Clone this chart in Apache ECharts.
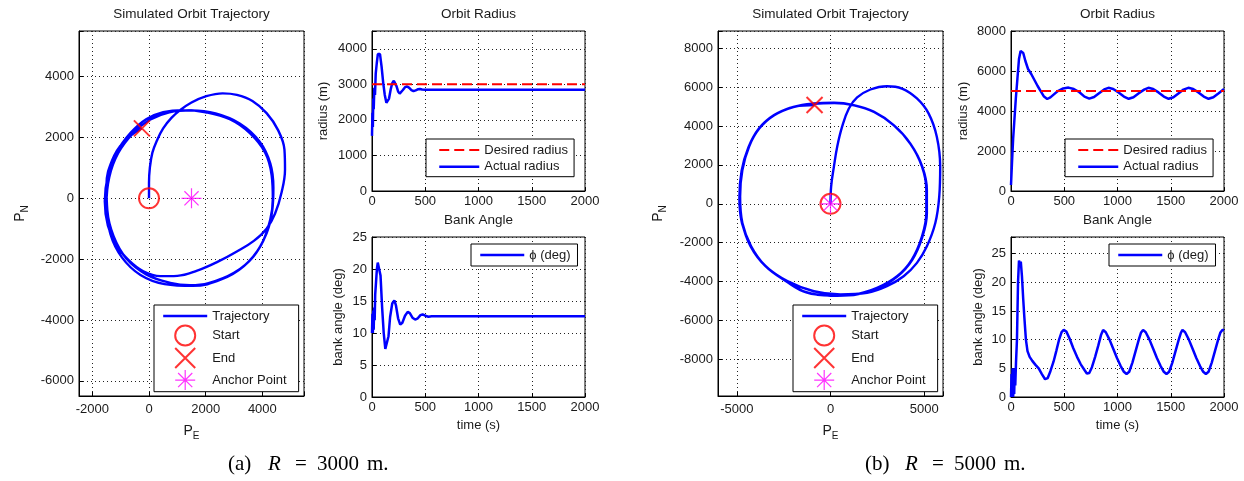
<!DOCTYPE html>
<html><head><meta charset="utf-8">
<script src="https://cdn.jsdelivr.net/npm/echarts@6/dist/echarts.min.js"></script>
<style>html,body{margin:0;padding:0;background:#fff}#c{width:1244px;height:481px}</style>
</head><body><div id="c"></div>
<script>
// ---------- DATA ----------
// (a) R = 3000 m
const trajA = [[0,0],[0,500],[30,1000],[120,1500],[280,1900],[500,2300],[800,2650],[1100,2900],[1500,3150],[2000,3350],[2600,3450],[3100,3400],[3650,3200],[4150,2800],[4550,2250],[4780,1600],[4800,950],[4680,200],[4450,-500],[4150,-1000],[3700,-1400],[3100,-1750],[2400,-2100],[1700,-2380],[1000,-2550],[400,-2560],[-200,-2400],[-700,-2050],[-1150,-1550],[-1450,-900],[-1560,-100],[-1450,750],[-1150,1500],[-650,2150],[-100,2600],[500,2830],[1200,2900],[2000,2830],[2850,2600],[3550,2150],[4100,1500],[4330,750],[4370,0],[4280,-700],[3950,-1550],[3350,-2230],[2550,-2670],[1550,-2880],[550,-2820],[-300,-2520],[-950,-1950],[-1360,-1180],[-1500,-200],[-1400,700],[-1090,1480],[-560,2140],[30,2580],[720,2830],[1500,2890],[2350,2790],[3200,2460],[3900,1870],[4280,1150],[4390,350],[4350,-400],[4150,-1150],[3680,-1920],[3000,-2450],[2100,-2790],[1450,-2860],[750,-2780],[-100,-2500],[-800,-1980],[-1250,-1250],[-1470,-400],[-1500,450],[-1300,1250],[-900,1850],[-250,2300]];
const startA = [[0,0]];
const endA = [[-250,2300]];
const anchorA = [[1500,0]];
const radTimeA = [0,4,8,12,16,22,28,35,45,55,65,75,90,105,120,135,145,160,175,190,205,215,230,245,260,275,290,310,330,350,370,390,410,430,450,470,500,2000];
const radA = [1550,2200,1800,2600,2300,2900,2700,3300,3600,3850,3900,3850,3500,3050,2700,2480,2450,2600,2850,3030,3100,3080,2950,2800,2740,2760,2840,2920,2940,2900,2840,2810,2830,2860,2870,2855,2850,2850];
const desiredA = 3000;
const bankTimeA = [0,4,8,12,16,20,25,30,38,46,54,62,70,80,95,110,125,140,155,170,190,210,225,245,265,285,310,335,355,380,405,430,455,475,500,530,560,2000];
const bankA = [10,13,10,13.5,10.5,14,12,16,18,20,21,21.3,21,19,14,10,7.5,7.3,9.5,12.5,14.6,15.1,14.3,12.3,11.3,11.6,12.7,13.3,13.1,12.4,12.1,12.3,12.8,12.9,12.7,12.55,12.6,12.6];

// (b) R = 5000 m
const trajB = [[0,0],[35,900],[180,1900],[360,2950],[620,3970],[980,4900],[1420,5470],[2130,5880],[3010,6050],[3810,5930],[4610,5420],[5230,4650],[5670,3450],[5850,1910],[5800,380],[5590,-990],[5140,-2190],[4610,-3040],[3900,-3730],[3010,-4240],[1950,-4580],[530,-4670],[-890,-4500],[-2300,-3980],[-3460,-3210],[-4260,-2190],[-4700,-990],[-4820,380],[-4700,1740],[-4340,2940],[-3810,3880],[-3010,4570],[-1950,4990],[-890,5160],[180,5200],[1240,5080],[2300,4740],[3370,4050],[4250,3110],[4880,1910],[5110,720],[5110,-480],[4880,-1680],[4340,-2870],[3550,-3730],[2480,-4330],[1240,-4670],[0,-4720],[-1300,-4560],[-2350,-4000],[-3480,-3200],[-4250,-2180],[-4720,-1000],[-4860,300],[-4740,1700],[-4380,2900],[-3830,3860],[-3040,4540],[-1980,4980],[-860,5150],[200,5180],[1260,5060],[2320,4720],[3380,4030],[4260,3090],[4900,1900],[5140,700],[5140,-500],[4900,-1700],[4360,-2880],[3560,-3740],[2490,-4340],[1240,-4690],[0,-4730],[-1290,-4550],[-2330,-3990],[-3470,-3200],[-4240,-2170],[-4700,-990],[-4840,320],[-4720,1720],[-4360,2920],[-3800,3870],[-3000,4560],[-1900,5000],[-850,5080]];
const startB = [[0,0]];
const endB = [[-850,5080]];
const anchorB = [[0,0]];
const radTimeB = [0,10,20,30,45,60,75,90,100,115,135,160,190,220,250,280,310,340,370,400,440,490,540,590,640,690,735,780,830,875,915,960,1010,1060,1105,1150,1200,1250,1290,1335,1385,1435,1480,1525,1575,1620,1665,1710,1760,1810,1855,1900,1950,2000];
const radB = [300,1500,2600,3400,4600,5600,6600,7000,7050,6900,6500,6100,5850,5550,5250,4980,4720,4600,4680,4820,5000,5130,5170,5100,4950,4720,4620,4700,4900,5080,5160,5100,4930,4720,4610,4690,4890,5070,5160,5100,4930,4720,4610,4690,4890,5070,5160,5100,4930,4720,4610,4690,4890,5100];
const desiredB = 5000;
const bankTimeB = [0,5,10,15,20,25,30,35,40,47,56,66,75,85,92,103,115,125,140,155,175,200,230,260,290,320,345,370,400,425,450,475,495,520,550,585,620,655,690,712,735,760,790,820,845,865,890,925,960,995,1030,1060,1085,1110,1140,1170,1200,1220,1240,1265,1300,1335,1370,1405,1435,1460,1485,1515,1545,1575,1595,1610,1635,1670,1705,1740,1775,1805,1830,1855,1885,1915,1945,1965,1985,2000];
const bankB = [0,4,1,5,0,3,0.5,5,2,6,10,20,23.8,23.2,23.6,21,17,14,10,8,7,6.3,5.6,5,4,3.1,3.3,4.5,6.2,8,9.9,11.3,11.7,11.4,10.2,8.5,7,5.7,4.7,4.1,4.2,5.2,7,9,10.8,11.7,11.3,10,8.4,6.8,5.4,4.4,4.0,4.4,6,8,10,11.2,11.7,11.3,10,8.4,6.8,5.4,4.4,4.0,4.4,6,8,10,11.2,11.7,11.3,10,8.4,6.8,5.4,4.4,4.0,4.4,6,8,10,11.2,11.7,11.7];

// ---------- STYLE ----------
const F = "'Liberation Sans', Arial, Helvetica, sans-serif";
const SERIF = "'Liberation Serif', 'Times New Roman', serif";
const INK = '#1a1a1a';
const BLUE = '#0000ff', RED = '#ff0000', MAG = '#ff00ff';
const XPATH = 'path://M0,0L100,100M100,0L0,100';
const STARPATH = 'path://M50,0L50,100M0,50L100,50M14.6,14.6L85.4,85.4M85.4,14.6L14.6,85.4';
const pair = (xs, ys) => xs.map((x, i) => [x, ys[i]]);
const stepFmt = s => v => (Math.abs(v / s - Math.round(v / s)) < 1e-6 ? String(Math.round(v * 1000) / 1000) : '');
const subRich = {
  p: {fontSize: 14, fontFamily: F, color: INK, lineHeight: 16},
  s: {fontSize: 10, fontFamily: F, color: INK, lineHeight: 12, padding: [10, 0, 0, 0]}
};

function axis(gi, min, max, o) {
  const a = {
    type: 'value', gridIndex: gi, min: min, max: max,
    axisLine: {show: true, onZero: false, lineStyle: {color: '#000', width: 1}},
    axisTick: {show: true, inside: true, length: 4, lineStyle: {color: '#000'}},
    axisLabel: {color: INK, fontSize: 13, fontFamily: F, margin: o.margin, formatter: stepFmt(o.step)},
    splitLine: {show: true, lineStyle: {color: '#222', width: 1, type: [1, 3]}},
    name: o.name || '', nameLocation: 'middle', nameGap: o.nameGap || 20,
    nameTextStyle: Object.assign({color: INK, fontSize: 13, fontFamily: F}, o.rich ? {rich: subRich} : {})
  };
  if (o.interval) a.interval = o.interval; else a.splitNumber = o.splitNumber;
  if (o.rotate) a.nameRotate = 90;
  return a;
}

const grids = [
  {left: 79, top: 31, width: 225, height: 365},
  {left: 372, top: 31, width: 213, height: 160},
  {left: 372, top: 237, width: 213, height: 160},
  {left: 718, top: 31, width: 225, height: 365},
  {left: 1011, top: 31, width: 213, height: 160},
  {left: 1011, top: 237, width: 213, height: 160}
].map(g => Object.assign({show: true, borderColor: '#000', borderWidth: 1, backgroundColor: '#fff', containLabel: false}, g));

const xAxes = [
  axis(0, -2470, 5470, {splitNumber: 4, step: 2000, margin: 7, name: '{p|P}{s|E}', rich: true, nameGap: 20}),
  axis(1, 0, 2000, {interval: 500, step: 500, margin: 4}),
  axis(2, 0, 2000, {interval: 500, step: 500, margin: 4, name: 'time (s)', nameGap: 22}),
  axis(3, -6000, 6000, {splitNumber: 3, step: 5000, margin: 7, name: '{p|P}{s|E}', rich: true, nameGap: 20}),
  axis(4, 0, 2000, {interval: 500, step: 500, margin: 4}),
  axis(5, 0, 2000, {interval: 500, step: 500, margin: 4, name: 'time (s)', nameGap: 22})
];
const yAxes = [
  axis(0, -6500, 5500, {splitNumber: 6, step: 2000, margin: 5, name: '{p|P}{s|N}', rich: true, rotate: true, nameGap: 51}),
  axis(1, 0, 4500, {interval: 1000, step: 1000, margin: 5, name: 'radius (m)', rotate: true, nameGap: 42}),
  axis(2, 0, 25, {interval: 5, step: 5, margin: 5, name: 'bank angle (deg)', rotate: true, nameGap: 27}),
  axis(3, -9890, 8890, {splitNumber: 9, step: 2000, margin: 5, name: '{p|P}{s|N}', rich: true, rotate: true, nameGap: 52}),
  axis(4, 0, 8000, {interval: 2000, step: 2000, margin: 5, name: 'radius (m)', rotate: true, nameGap: 41}),
  axis(5, 0, 27.9, {interval: 5, step: 5, margin: 5, name: 'bank angle (deg)', rotate: true, nameGap: 26})
];

function lineS(name, gi, data, color, width, extra) {
  return Object.assign({
    name: name, type: 'line', xAxisIndex: gi, yAxisIndex: gi, data: data,
    symbol: 'none', showSymbol: false, animation: false,
    lineStyle: {color: color, width: width}, itemStyle: {color: color}, z: 3
  }, extra || {});
}
function markS(name, gi, data, symbol, size, color, bw) {
  return {
    name: name, type: 'scatter', xAxisIndex: gi, yAxisIndex: gi, data: data,
    symbol: symbol, symbolSize: size, animation: false, z: 5,
    itemStyle: {color: 'rgba(0,0,0,0)', borderColor: color, borderWidth: bw}
  };
}

const series = [];
[[0, trajA, startA, endA, anchorA, 1, radTimeA, radA, desiredA, 2, bankTimeA, bankA],
 [3, trajB, startB, endB, anchorB, 4, radTimeB, radB, desiredB, 5, bankTimeB, bankB]].forEach(p => {
  series.push(lineS('Trajectory', p[0], p[1], BLUE, 2.4, {smooth: 0.4}));
  series.push(markS('Start', p[0], p[2], 'circle', 20, RED, 2));
  series.push(markS('End', p[0], p[3], XPATH, 16, RED, 2));
  series.push(markS('Anchor Point', p[0], p[4], STARPATH, 20, MAG, 1.2));
  series.push(lineS('Desired radius', p[5], [[0, p[8]], [2000, p[8]]], RED, 2, {lineStyle: {color: RED, width: 2, type: [10, 5]}, z: 4}));
  series.push(lineS('Actual radius', p[5], pair(p[6], p[7]), BLUE, 2.5));
  series.push(lineS('ϕ (deg)', p[9], pair(p[10], p[11]), BLUE, 2.5));
});

const noSym = {opacity: 0, color: 'rgba(0,0,0,0)', borderWidth: 0};
const legBase = {
  orient: 'vertical', backgroundColor: '#fff', borderColor: '#000', borderWidth: 1, borderRadius: 0,
  textStyle: {color: INK, fontSize: 13, fontFamily: F}, symbolKeepAspect: true, selectedMode: false,
  itemHeight: 20
};
const trajLegData = [
  {name: 'Trajectory', itemStyle: noSym, lineStyle: {color: BLUE, width: 2.4}},
  {name: 'Start', icon: 'circle', itemStyle: {color: 'rgba(0,0,0,0)', borderColor: RED, borderWidth: 2}},
  {name: 'End', icon: XPATH, itemStyle: {color: 'rgba(0,0,0,0)', borderColor: RED, borderWidth: 2}},
  {name: 'Anchor Point', icon: STARPATH, itemStyle: {color: 'rgba(0,0,0,0)', borderColor: MAG, borderWidth: 1.2}}
];
const radLegData = [
  {name: 'Desired radius', itemStyle: noSym, lineStyle: {color: RED, width: 2, type: [10, 5]}},
  {name: 'Actual radius', itemStyle: noSym, lineStyle: {color: BLUE, width: 2.5}}
];
const bankLegData = [{name: 'ϕ (deg)', itemStyle: noSym, lineStyle: {color: BLUE, width: 2.5}}];
const legends = [
  Object.assign({}, legBase, {left: 154, top: 305, itemWidth: 44, itemGap: 0.5, padding: [3, 12, 1, 8], data: trajLegData}),
  Object.assign({}, legBase, {left: 793, top: 305, itemWidth: 44, itemGap: 0.5, padding: [3, 12, 1, 8], data: trajLegData}),
  Object.assign({}, legBase, {left: 426, top: 139, itemWidth: 40, itemGap: 0.7, padding: [3, 6, 2, 12], data: radLegData}),
  Object.assign({}, legBase, {left: 1065, top: 139, itemWidth: 40, itemGap: 0.7, padding: [3, 6, 2, 12], data: radLegData}),
  Object.assign({}, legBase, {left: 471, top: 244, itemWidth: 44, padding: [3, 7, 3, 8], data: bankLegData}),
  Object.assign({}, legBase, {left: 1109, top: 244, itemWidth: 44, padding: [3, 7, 3, 8], data: bankLegData})
];

const tStyle = {fontSize: 13.5, fontWeight: 'normal', color: INK, fontFamily: F};
const titles = [
  ['Simulated Orbit Trajectory', 191.5, 7], ['Orbit Radius', 478.5, 7], ['Bank Angle', 478.5, 213],
  ['Simulated Orbit Trajectory', 830.5, 7], ['Orbit Radius', 1117.5, 7], ['Bank Angle', 1117.5, 213]
].map(t => ({text: t[0], left: t[1], top: t[2], textAlign: 'center', padding: 0, textStyle: tStyle}));

const capRich = {
  a: {fontFamily: SERIF, fontSize: 21, color: '#000', width: 40},
  r: {fontFamily: SERIF, fontSize: 21, fontStyle: 'italic', color: '#000', width: 27},
  e: {fontFamily: SERIF, fontSize: 21, color: '#000', width: 22},
  d: {fontFamily: SERIF, fontSize: 21, color: '#000', width: 50},
  m: {fontFamily: SERIF, fontSize: 21, color: '#000'}
};
const graphics = [
  {type: 'text', left: 228, top: 454, style: {text: '{a|(a)}{r|R}{e|=}{d|3000}{m|m.}', rich: capRich}},
  {type: 'text', left: 865, top: 454, style: {text: '{a|(b)}{r|R}{e|=}{d|5000}{m|m.}', rich: capRich}}
];

const chart = echarts.init(document.getElementById('c'), null, {renderer: 'canvas'});
chart.setOption({
  animation: false, backgroundColor: '#fff',
  title: titles, grid: grids, xAxis: xAxes, yAxis: yAxes,
  legend: legends, series: series, graphic: graphics
});
</script></body></html>
